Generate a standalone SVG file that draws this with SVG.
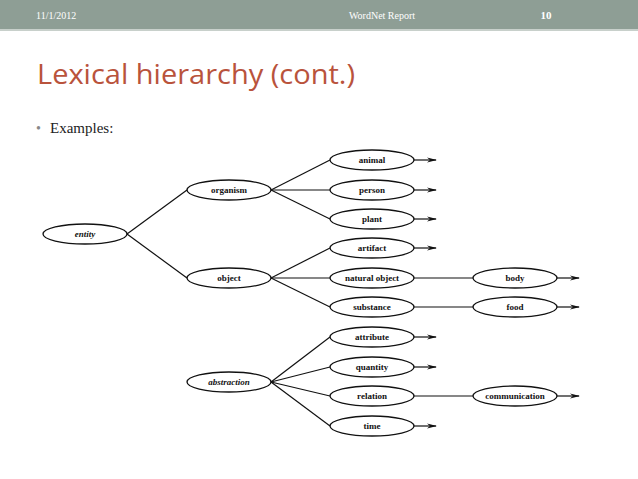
<svg xmlns="http://www.w3.org/2000/svg" width="638" height="479" viewBox="0 0 638 479">
<style>
.n ellipse{fill:#fff;stroke:#111;stroke-width:1.3}
.n text{font-family:"Liberation Serif",serif;font-size:9px;font-weight:bold;text-anchor:middle;fill:#111}
.i text{font-style:italic}
#connectors line{stroke:#111;stroke-width:1.2}
</style>
<defs><marker id="a" markerWidth="10" markerHeight="6" refX="9" refY="3" orient="auto" markerUnits="userSpaceOnUse"><path d="M0,0.5 L10,3 L0,5.5 L3,3 Z" fill="#111"/></marker></defs>
<rect width="638" height="479" fill="#fff"/>
<rect width="638" height="29" fill="#8e9e95"/>
<rect y="29" width="638" height="2" fill="#c8d0cb"/>
<text x="36" y="19" font-family="Liberation Serif,serif" font-size="10" fill="#fff">11/1/2012</text>
<text x="382" y="19" font-family="Liberation Serif,serif" font-size="10" fill="#fff" text-anchor="middle">WordNet Report</text>
<text x="546" y="19" font-family="Liberation Serif,serif" font-size="11" font-weight="bold" fill="#fff" text-anchor="middle">10</text>
<text x="37" y="84" font-family="Open Sans,Liberation Sans,sans-serif" font-size="28" fill="#b9533c" textLength="318" lengthAdjust="spacingAndGlyphs">Lexical hierarchy (cont.)</text>
<text x="36" y="133" font-family="Liberation Serif,serif" font-size="14" fill="#888">•</text>
<text x="50" y="133" font-family="Liberation Serif,serif" font-size="15" fill="#222">Examples:</text>
<g id="connectors">
<line x1="127" y1="234" x2="187" y2="190"/><line x1="127" y1="234" x2="187" y2="278"/>
<line x1="271" y1="190" x2="330" y2="160"/><line x1="271" y1="190" x2="330" y2="190"/><line x1="271" y1="190" x2="330" y2="219"/>
<line x1="271" y1="278" x2="330" y2="248"/><line x1="271" y1="278" x2="330" y2="278"/><line x1="271" y1="278" x2="330" y2="307"/>
<line x1="271" y1="382" x2="330" y2="337"/><line x1="271" y1="382" x2="330" y2="367"/><line x1="271" y1="382" x2="330" y2="396"/><line x1="271" y1="382" x2="330" y2="426"/>
<line x1="414" y1="160" x2="436" y2="160" marker-end="url(#a)"/>
<line x1="414" y1="190" x2="436" y2="190" marker-end="url(#a)"/>
<line x1="414" y1="219" x2="436" y2="219" marker-end="url(#a)"/>
<line x1="414" y1="248" x2="436" y2="248" marker-end="url(#a)"/>
<line x1="414" y1="337" x2="436" y2="337" marker-end="url(#a)"/>
<line x1="414" y1="367" x2="436" y2="367" marker-end="url(#a)"/>
<line x1="414" y1="426" x2="436" y2="426" marker-end="url(#a)"/>
<line x1="414" y1="278" x2="473" y2="278"/><line x1="414" y1="307" x2="473" y2="307"/><line x1="414" y1="396" x2="473" y2="396"/>
<line x1="557" y1="278" x2="579" y2="278" marker-end="url(#a)"/>
<line x1="557" y1="307" x2="579" y2="307" marker-end="url(#a)"/>
<line x1="557" y1="396" x2="579" y2="396" marker-end="url(#a)"/>
</g>
<g id="entity" class="n i"><ellipse cx="85" cy="234" rx="42" ry="10"/><text x="85" y="237">entity</text></g>
<g id="organism" class="n"><ellipse cx="229" cy="190" rx="42" ry="10"/><text x="229" y="193">organism</text></g>
<g id="object" class="n"><ellipse cx="229" cy="278" rx="42" ry="10"/><text x="229" y="281">object</text></g>
<g id="abstraction" class="n i"><ellipse cx="229" cy="382" rx="42" ry="10"/><text x="229" y="385">abstraction</text></g>
<g id="animal" class="n"><ellipse cx="372" cy="160" rx="42" ry="10"/><text x="372" y="163">animal</text></g>
<g id="person" class="n"><ellipse cx="372" cy="190" rx="42" ry="10"/><text x="372" y="193">person</text></g>
<g id="plant" class="n"><ellipse cx="372" cy="219" rx="42" ry="10"/><text x="372" y="222">plant</text></g>
<g id="artifact" class="n"><ellipse cx="372" cy="248" rx="42" ry="10"/><text x="372" y="251">artifact</text></g>
<g id="natural-object" class="n"><ellipse cx="372" cy="278" rx="42" ry="10"/><text x="372" y="281">natural object</text></g>
<g id="substance" class="n"><ellipse cx="372" cy="307" rx="42" ry="10"/><text x="372" y="310">substance</text></g>
<g id="attribute" class="n"><ellipse cx="372" cy="337" rx="42" ry="10"/><text x="372" y="340">attribute</text></g>
<g id="quantity" class="n"><ellipse cx="372" cy="367" rx="42" ry="10"/><text x="372" y="370">quantity</text></g>
<g id="relation" class="n"><ellipse cx="372" cy="396" rx="42" ry="10"/><text x="372" y="399">relation</text></g>
<g id="time" class="n"><ellipse cx="372" cy="426" rx="42" ry="10"/><text x="372" y="429">time</text></g>
<g id="body" class="n"><ellipse cx="515" cy="278" rx="42" ry="10"/><text x="515" y="281">body</text></g>
<g id="food" class="n"><ellipse cx="515" cy="307" rx="42" ry="10"/><text x="515" y="310">food</text></g>
<g id="communication" class="n"><ellipse cx="515" cy="396" rx="42" ry="10"/><text x="515" y="399">communication</text></g>
</svg>
